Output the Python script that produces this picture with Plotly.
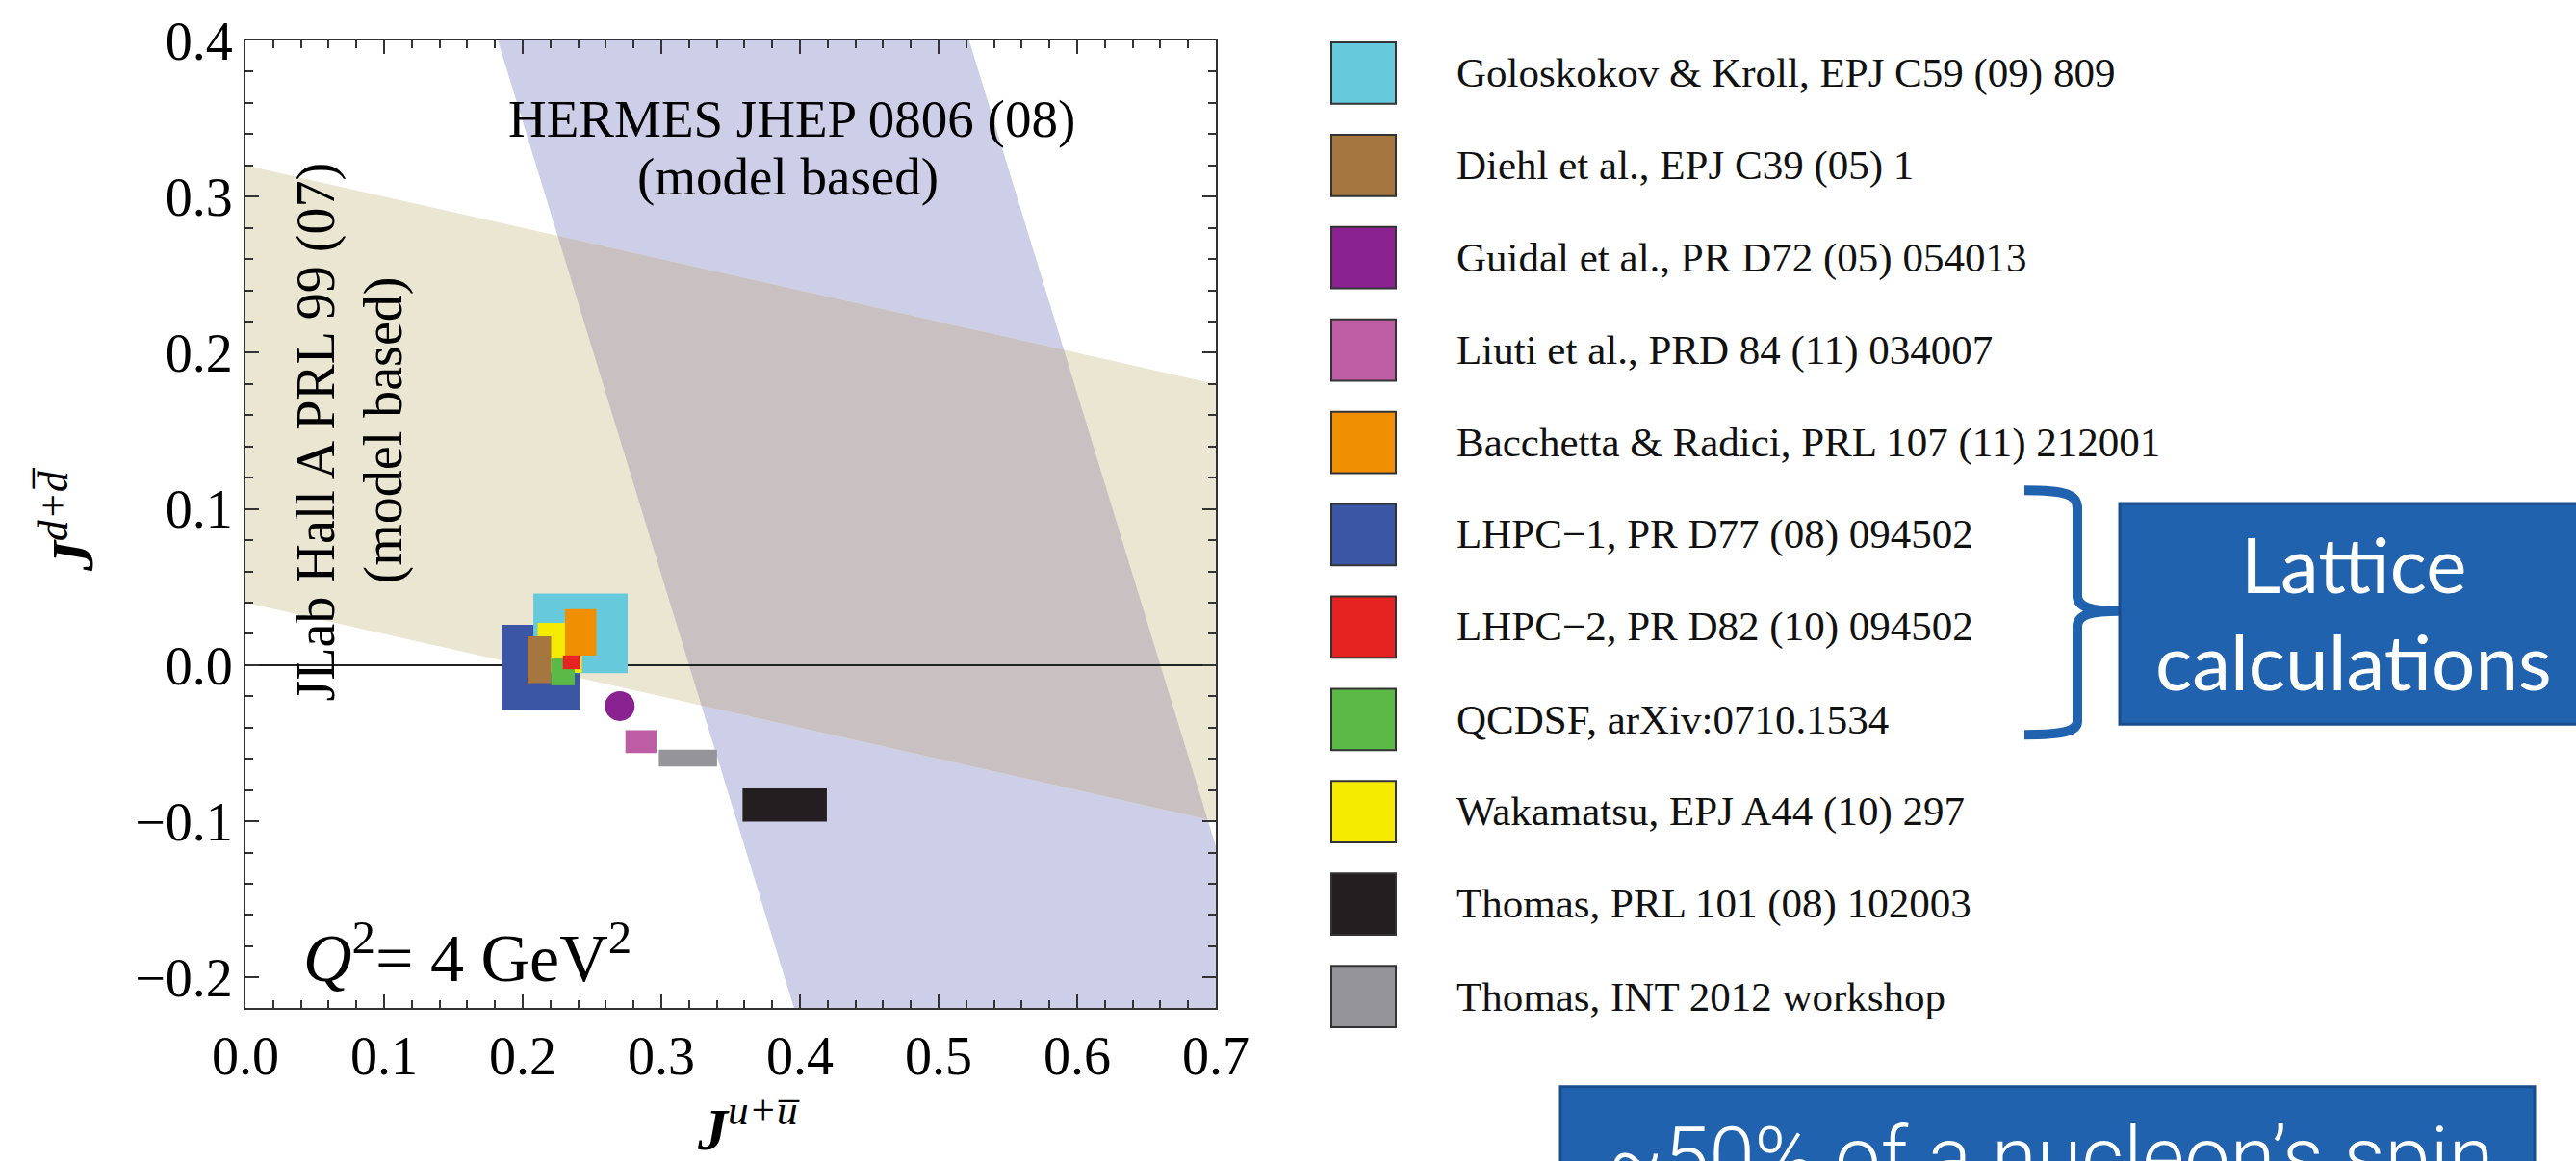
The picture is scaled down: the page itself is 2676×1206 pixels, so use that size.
import plotly.graph_objects as go

# ---------------- data ----------------
ju_range = [0.0, 0.7]
jd_range = [-0.2195, 0.4]

# JLab Hall A constraint:  J_d + J_u/5.0 = 0.18 +/- 0.14
jlab_coef = 1 / 5.0
jlab_center = 0.18
jlab_err = 0.14
# HERMES constraint:  J_u + J_d/2.9 = 0.49 +/- 0.17
hermes_coef = 1 / 2.9
hermes_center = 0.49
hermes_err = 0.17

model_names = [
    "Goloskokov & Kroll, EPJ C59 (09) 809",
    "Diehl et al., EPJ C39 (05) 1",
    "Guidal et al., PR D72 (05) 054013",
    "Liuti et al., PRD 84 (11) 034007",
    "Bacchetta & Radici, PRL 107 (11) 212001",
    "LHPC\u22121, PR D77 (08) 094502",
    "LHPC\u22122, PR D82 (10) 094502",
    "QCDSF, arXiv:0710.1534",
    "Wakamatsu, EPJ A44 (10) 297",
    "Thomas, PRL 101 (08) 102003",
    "Thomas, INT 2012 workshop",
]
model_colors = [
    "#67C9DC", "#A5763F", "#8B2291", "#BD5EA5", "#F09000", "#3A56A5",
    "#E52421", "#5BB947", "#F5EB00", "#231F20", "#959499",
]
ju_center = [0.2417, 0.2120, 0.2700, 0.2853, 0.2418, 0.2130, 0.2353, 0.2290, 0.2268, 0.3890, 0.3192]
jd_center = [0.0204, 0.0035, -0.0262, -0.0490, 0.0210, -0.0015, 0.0018, -0.0040, 0.0111, -0.0896, -0.0596]
ju_half = [0.0340, 0.0085, 0.0109, 0.0112, 0.0113, 0.0280, 0.0063, 0.0085, 0.0160, 0.0304, 0.0210]
jd_half = [0.0255, 0.0150, 0.0096, 0.0073, 0.0149, 0.0273, 0.0044, 0.0089, 0.0159, 0.0106, 0.0054]
model_shape = ["box", "box", "circle", "box", "box", "box", "box", "box", "box", "box", "box"]
draw_order = [5, 0, 8, 1, 7, 4, 6, 2, 3, 10, 9]

lattice_label = ["Lattice", "calculations"]
spin_label = "~50% of a nucleon\u2019s spin"

# ---------------- layout geometry (pixels) ----------------
W, H = 2676, 1206
PL, PR, PT, PB = 255, 1263, 38, 1047


def px(x, y):
    """pixel position -> paper coordinates"""
    return (x - PL) / (PR - PL), (PB - y) / (PB - PT)


def clip(poly, a, b, c):
    """keep the part of a polygon with a*x + b*y <= c"""
    out = []
    n = len(poly)
    for i in range(n):
        p, q = poly[i], poly[(i + 1) % n]
        fp = a * p[0] + b * p[1] - c
        fq = a * q[0] + b * q[1] - c
        if fp <= 0:
            out.append(p)
        if fp * fq < 0:
            t = fp / (fp - fq)
            out.append((p[0] + t * (q[0] - p[0]), p[1] + t * (q[1] - p[1])))
    return out


frame = [(ju_range[0], jd_range[0]), (ju_range[1], jd_range[0]),
         (ju_range[1], jd_range[1]), (ju_range[0], jd_range[1])]

hermes_poly = clip(frame, 1, hermes_coef, hermes_center + hermes_err)
hermes_poly = clip(hermes_poly, -1, -hermes_coef, -(hermes_center - hermes_err))
jlab_poly = clip(frame, jlab_coef, 1, jlab_center + jlab_err)
jlab_poly = clip(jlab_poly, -jlab_coef, -1, -(jlab_center - jlab_err))
both_poly = clip(hermes_poly, jlab_coef, 1, jlab_center + jlab_err)
both_poly = clip(both_poly, -jlab_coef, -1, -(jlab_center - jlab_err))

fig = go.Figure()


def add_poly(poly, color):
    xs = [p[0] for p in poly] + [poly[0][0]]
    ys = [p[1] for p in poly] + [poly[0][1]]
    fig.add_trace(go.Scatter(x=xs, y=ys, mode="lines", fill="toself",
                             fillcolor=color, line=dict(width=0),
                             hoverinfo="skip", showlegend=False))


add_poly(hermes_poly, "#CDCFE9")
add_poly(jlab_poly, "#EAE6D2")
add_poly(both_poly, "#C9C1C1")

# horizontal line at J_d = 0
fig.add_trace(go.Scatter(x=ju_range, y=[0, 0], mode="lines",
                         line=dict(color="#222222", width=2),
                         hoverinfo="skip", showlegend=False))

# model / lattice results
for i in draw_order:
    if model_shape[i] == "circle":
        fig.add_trace(go.Scatter(x=[ju_center[i]], y=[jd_center[i]], mode="markers",
                                 marker=dict(symbol="circle", size=31, color=model_colors[i],
                                             line=dict(width=0)),
                                 name=model_names[i], showlegend=False))
    else:
        x0, x1 = ju_center[i] - ju_half[i], ju_center[i] + ju_half[i]
        y0, y1 = jd_center[i] - jd_half[i], jd_center[i] + jd_half[i]
        fig.add_trace(go.Scatter(x=[x0, x1, x1, x0, x0], y=[y0, y0, y1, y1, y0],
                                 mode="lines", fill="toself", fillcolor=model_colors[i],
                                 line=dict(width=0), name=model_names[i],
                                 showlegend=False))

serif = "Liberation Serif"
axis_common = dict(
    showline=True, mirror="ticks", linecolor="#333333", linewidth=2,
    ticks="inside", ticklen=14, tickwidth=2, tickcolor="#333333",
    dtick=0.1, tick0=0, tickformat=".1f",
    tickfont=dict(family=serif, size=56, color="black"),
    showgrid=False, zeroline=False,
    minor=dict(dtick=0.02, ticks="inside", ticklen=8, tickwidth=1.5,
               tickcolor="#333333", showgrid=False),
)
fig.update_xaxes(range=ju_range, **axis_common)
fig.update_yaxes(range=jd_range, **axis_common)

annotations = []
shapes = []


def ann(text, x, y, size, family=serif, color="black", angle=0,
        xanchor="center", yanchor="middle", weight=None):
    ax, ay = px(x, y)
    f = dict(family=family, size=size, color=color)
    if weight is not None:
        f["weight"] = weight
    annotations.append(dict(text=text, x=ax, y=ay, xref="paper", yref="paper",
                            showarrow=False, xanchor=xanchor, yanchor=yanchor,
                            textangle=angle, font=f))


# axis titles
ann("<b><i>J</i></b><sup><i>u+u\u0305</i></sup>", 777, 1168, 62)
ann("<b><i>J</i></b><sup><i>d+d\u0305</i></sup>", 70, 538, 62, angle=-90)

# band labels
ann("HERMES JHEP 0806 (08)", 822, 120, 55)
ann("(model based)", 818, 180, 55)
ann("JLab Hall A PRL 99 (07)", 328, 447, 56, angle=-90)
ann("(model based)", 398, 445, 56, angle=-90)
ann("<i>Q</i><sup>2</sup>= 4 GeV<sup>2</sup>", 485, 990, 70)

# legend
for i, name in enumerate(model_names):
    cy = 72 + 96.3 * i
    x0, y0 = px(1383, cy - 32)
    x1, y1 = px(1450, cy + 32)
    shapes.append(dict(type="rect", xref="paper", yref="paper",
                       x0=x0, x1=x1, y0=y0, y1=y1,
                       fillcolor=model_colors[i], line=dict(color="#333333", width=2)))
    ann(name, 1511, cy, 43, xanchor="left", color="#111111")

# lattice bracket and box
blue = "#2162AE"


def P(x, y):
    ax, ay = px(x, y)
    return f"{ax:.5f},{ay:.5f}"


brace = (f"M {P(2103, 507)} C {P(2145, 507)} {P(2158, 511)} {P(2158, 526)} "
         f"L {P(2158, 617)} C {P(2158, 629)} {P(2172, 633)} {P(2202, 633)} "
         f"C {P(2172, 633)} {P(2158, 637)} {P(2158, 649)} "
         f"L {P(2158, 748)} C {P(2158, 758)} {P(2145, 762)} {P(2103, 762)}")
shapes.append(dict(type="path", xref="paper", yref="paper", path=brace,
                   line=dict(color=blue, width=10), fillcolor="rgba(0,0,0,0)"))

bx0, by0 = px(2202, 521)
bx1, by1 = px(2720, 751)
shapes.append(dict(type="rect", xref="paper", yref="paper", x0=bx0, x1=bx1,
                   y0=by0, y1=by1, fillcolor=blue, line=dict(color="#184C8C", width=3)))
ann(lattice_label[0], 2445, 583, 80, family="Lato", color="white")
ann(lattice_label[1], 2445, 685, 80, family="Lato", color="white")

sx0, sy0 = px(1621, 1129)
sx1, sy1 = px(2633, 1300)
shapes.append(dict(type="rect", xref="paper", yref="paper", x0=sx0, x1=sx1,
                   y0=sy0, y1=sy1, fillcolor=blue, line=dict(color="#184C8C", width=3)))
ann(spin_label, 2130, 1203, 85, family="Roboto", color="white", weight=300)

fig.update_layout(
    width=W, height=H, autosize=False,
    margin=dict(l=PL, r=W - PR, t=PT, b=H - PB, pad=0),
    paper_bgcolor="white", plot_bgcolor="white",
    showlegend=False, annotations=annotations, shapes=shapes,
)

fig.write_html("out.html")
